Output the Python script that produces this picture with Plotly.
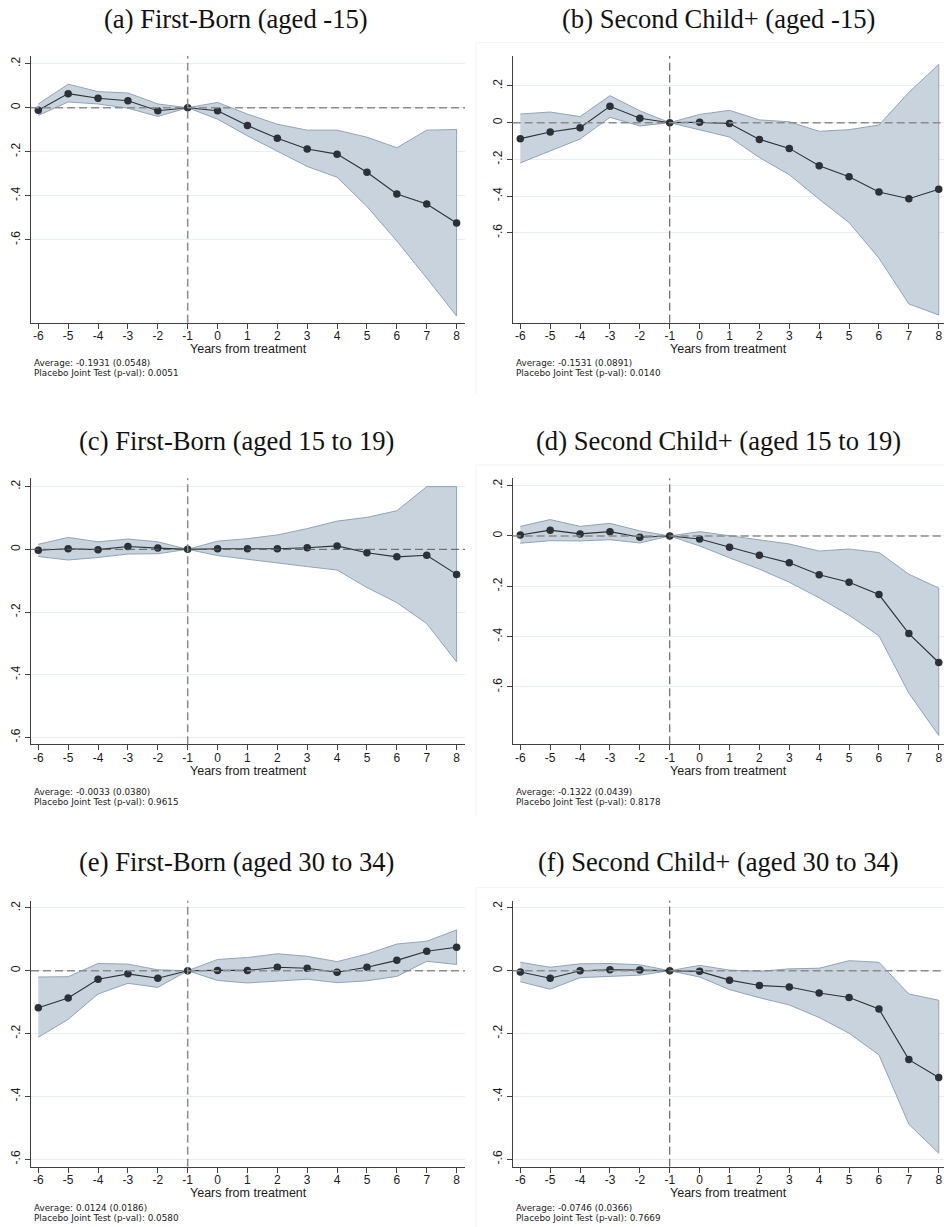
import plotly.graph_objects as go

W, H = 944, 1227

years = [-6, -5, -4, -3, -2, -1, 0, 1, 2, 3, 4, 5, 6, 7, 8]

# (a) First-Born (aged -15)
a_coef  = [-0.012, 0.064, 0.043, 0.032, -0.014, 0.0, -0.014, -0.081, -0.139, -0.188, -0.211, -0.293, -0.392, -0.438, -0.524]
a_upper = [0.017, 0.107, 0.073, 0.067, 0.017, 0.0, 0.024, -0.029, -0.075, -0.102, -0.102, -0.134, -0.182, -0.102, -0.099]
a_lower = [-0.035, 0.026, 0.017, -0.002, -0.040, 0.0, -0.052, -0.128, -0.198, -0.267, -0.316, -0.449, -0.606, -0.774, -0.947]

# (b) Second Child+ (aged -15)
b_coef  = [-0.087, -0.051, -0.027, 0.089, 0.024, 0.0, 0.002, -0.005, -0.091, -0.140, -0.234, -0.294, -0.377, -0.414, -0.363]
b_upper = [0.047, 0.058, 0.033, 0.147, 0.065, 0.0, 0.045, 0.067, 0.015, 0.005, -0.047, -0.038, -0.013, 0.165, 0.317]
b_lower = [-0.219, -0.154, -0.089, 0.029, -0.018, 0.0, -0.040, -0.078, -0.190, -0.283, -0.417, -0.544, -0.738, -0.987, -1.047]

# (c) First-Born (aged 15 to 19)
c_coef  = [-0.003, 0.002, -0.001, 0.009, 0.004, 0.0, 0.002, 0.002, 0.002, 0.005, 0.011, -0.011, -0.024, -0.019, -0.080]
c_upper = [0.016, 0.038, 0.024, 0.033, 0.024, 0.0, 0.026, 0.034, 0.046, 0.066, 0.090, 0.102, 0.123, 0.200, 0.200]
c_lower = [-0.023, -0.034, -0.026, -0.015, -0.014, 0.0, -0.020, -0.030, -0.043, -0.055, -0.066, -0.122, -0.170, -0.237, -0.359]

# (d) Second Child+ (aged 15 to 19)
d_coef  = [0.004, 0.023, 0.008, 0.017, -0.005, 0.0, -0.012, -0.045, -0.077, -0.107, -0.154, -0.184, -0.233, -0.388, -0.503]
d_upper = [0.038, 0.065, 0.038, 0.050, 0.020, 0.0, 0.017, 0.001, -0.017, -0.032, -0.060, -0.052, -0.066, -0.152, -0.207]
d_lower = [-0.029, -0.019, -0.020, -0.015, -0.028, 0.0, -0.040, -0.087, -0.132, -0.184, -0.246, -0.315, -0.397, -0.625, -0.793]

# (e) First-Born (aged 30 to 34)
e_coef  = [-0.118, -0.087, -0.027, -0.010, -0.024, 0.0, 0.001, 0.001, 0.011, 0.008, -0.005, 0.011, 0.033, 0.062, 0.075]
e_upper = [-0.020, -0.019, 0.023, 0.021, 0.003, 0.0, 0.036, 0.042, 0.054, 0.046, 0.029, 0.053, 0.085, 0.094, 0.130]
e_lower = [-0.212, -0.155, -0.074, -0.040, -0.053, 0.0, -0.031, -0.039, -0.032, -0.027, -0.038, -0.032, -0.018, 0.030, 0.020]

# (f) Second Child+ (aged 30 to 34)
f_coef  = [-0.004, -0.024, 0.000, 0.003, 0.002, 0.0, -0.002, -0.030, -0.047, -0.052, -0.071, -0.085, -0.122, -0.283, -0.340]
f_upper = [0.027, 0.011, 0.022, 0.023, 0.019, 0.0, 0.017, 0.002, -0.002, 0.006, 0.008, 0.032, 0.027, -0.074, -0.094]
f_lower = [-0.035, -0.059, -0.022, -0.018, -0.014, 0.0, -0.020, -0.060, -0.086, -0.109, -0.149, -0.199, -0.268, -0.489, -0.581]

titles = [
    "(a) First-Born (aged -15)", "(b) Second Child+ (aged -15)",
    "(c) First-Born (aged 15 to 19)", "(d) Second Child+ (aged 15 to 19)",
    "(e) First-Born (aged 30 to 34)", "(f) Second Child+ (aged 30 to 34)",
]
averages = ["-0.1931 (0.0548)", "-0.1531 (0.0891)", "-0.0033 (0.0380)",
            "-0.1322 (0.0439)", "0.0124 (0.0186)", "-0.0746 (0.0366)"]
pvals = ["0.0051", "0.0140", "0.9615", "0.8178", "0.0580", "0.7669"]

ytick_vals = [0.2, 0, -0.2, -0.4, -0.6]
ytick_text = [".2", "0", "-.2", "-.4", "-.6"]
xlabel = "Years from treatment"

series = [(a_coef, a_upper, a_lower), (b_coef, b_upper, b_lower),
          (c_coef, c_upper, c_lower), (d_coef, d_upper, d_lower),
          (e_coef, e_upper, e_lower), (f_coef, f_upper, f_lower)]

# ---- layout geometry (pixels) ----
col_x = [(31, 465), (512.7, 944)]
col_xrange = [(-6.244, 8.281), (-6.254, 8.176)]
row_y = [(56, 322.7), (478.3, 744.3), (900.7, 1166.7)]
yranges = [(-0.977, 0.235), (-1.089, 0.363), (-0.622, 0.2266),
           (-0.828, 0.229), (-0.624, 0.223), (-0.624, 0.223)]
title_cx = [236, 718]
title_y = [19.5, 440.5, 861.7]
note_off = [40.6, 40.6, 48.0, 48.0, 41.2, 41.2]
note_gap = 10.0

def px(x):
    return x / W

def py(y):
    return 1 - y / H

BAND_FILL = "#c8d3dd"
BAND_LINE = "#8fa4b9"
MARK = "#2b3137"
AXIS = "#404040"
GRID = "#e6eef0"
SANS = "Liberation Sans, Arial, sans-serif"
NOTE = dict(family="DejaVu Sans, Verdana, sans-serif", size=8.8, color="#1a1a1a")
TICKFONT = dict(family=SANS, size=12, color="#1a1a1a")

fig = go.Figure()
layout = dict(width=W, height=H, margin=dict(l=0, r=0, t=0, b=0),
              paper_bgcolor="white", plot_bgcolor="white", showlegend=False)
shapes = []
annotations = []

for i, (coef, up, lo) in enumerate(series):
    r, c = divmod(i, 2)
    k = i + 1
    xa = "x" if k == 1 else f"x{k}"
    ya = "y" if k == 1 else f"y{k}"
    xl = "xaxis" if k == 1 else f"xaxis{k}"
    yl = "yaxis" if k == 1 else f"yaxis{k}"
    x0, x1 = col_x[c]
    y0, y1 = row_y[r]

    # confidence band
    fig.add_trace(go.Scatter(
        x=years + years[::-1], y=up + lo[::-1], xaxis=xa, yaxis=ya,
        fill="toself", fillcolor=BAND_FILL, mode="lines",
        line=dict(color=BAND_LINE, width=1), hoverinfo="skip"))
    # point estimates
    fig.add_trace(go.Scatter(
        x=years, y=coef, xaxis=xa, yaxis=ya, mode="lines+markers",
        line=dict(color=MARK, width=1.1),
        marker=dict(color=MARK, size=7.5, symbol="circle")))

    layout[xl] = dict(domain=[px(x0), px(x1)], range=list(col_xrange[c]),
                      anchor=ya, tickmode="array", tickvals=years,
                      ticktext=[str(v) for v in years],
                      showline=True, linecolor=AXIS, linewidth=1.3,
                      ticks="outside", ticklen=5, tickwidth=1.2, tickcolor=AXIS,
                      ticklabelstandoff=-3,
                      showgrid=False, zeroline=False, tickfont=TICKFONT)
    layout[yl] = dict(domain=[py(y1), py(y0)], range=list(yranges[i]),
                      anchor=xa, tickmode="array", tickvals=ytick_vals,
                      ticktext=ytick_text, tickangle=-90,
                      showline=True, linecolor=AXIS, linewidth=1.3,
                      ticks="outside", ticklen=5, tickwidth=1.2, tickcolor=AXIS,
                      showgrid=True, gridcolor=GRID, gridwidth=1,
                      zeroline=False, tickfont=TICKFONT)

    # reference dashed lines
    hcol, hw = ("#5a5a5a", 1.0) if i == 2 else ("#8c8c8c", 1.5)
    vcol, vw = ("#8c8c8c", 1.5) if c == 0 else ("#4a4a4a", 1.0)
    shapes.append(dict(type="line", xref=f"{xa} domain", yref=ya,
                       x0=0, x1=1, y0=0, y1=0,
                       line=dict(color=hcol, width=hw, dash="8px,4px"), layer="above"))
    shapes.append(dict(type="line", xref=xa, yref=f"{ya} domain",
                       x0=-1, x1=-1, y0=0, y1=1,
                       line=dict(color=vcol, width=vw, dash="8px,4px"), layer="above"))

    # panel title
    annotations.append(dict(text=titles[i], x=px(title_cx[c]), y=py(title_y[r]),
                            xref="paper", yref="paper", xanchor="center", yanchor="middle",
                            showarrow=False,
                            font=dict(family="Liberation Serif, Times New Roman, serif", size=26.6, color="#111")))
    # x-axis title
    annotations.append(dict(text=xlabel, x=px((x0 + x1) / 2), y=py(y1 + 26.6),
                            xref="paper", yref="paper", xanchor="center", yanchor="middle",
                            showarrow=False, font=dict(family=SANS, size=12.5, color="#1a1a1a")))
    # notes
    n1 = note_off[i]
    annotations.append(dict(text=f"Average: {averages[i]}", x=px(x0 + 1), y=py(y1 + n1),
                            xref="paper", yref="paper", xanchor="left", yanchor="middle",
                            showarrow=False, font=NOTE))
    annotations.append(dict(text=f"Placebo Joint Test (p-val): {pvals[i]}", x=px(x0 + 1),
                            y=py(y1 + n1 + note_gap),
                            xref="paper", yref="paper", xanchor="left", yanchor="middle",
                            showarrow=False, font=NOTE))

    # faint outer frame of right-hand graphs
    if c == 1:
        fy0, fy1 = y0 - 13.3, min(y1 + 71.3, H)
        shapes.append(dict(type="line", xref="paper", yref="paper",
                           x0=px(476), x1=px(476), y0=py(fy0), y1=py(fy1),
                           line=dict(color="#f1f3f5", width=1)))
        shapes.append(dict(type="line", xref="paper", yref="paper",
                           x0=px(476), x1=1, y0=py(fy0), y1=py(fy0),
                           line=dict(color="#f1f3f5", width=1)))

layout["shapes"] = shapes
layout["annotations"] = annotations
fig.update_layout(**layout)
fig.write_html("out.html")
